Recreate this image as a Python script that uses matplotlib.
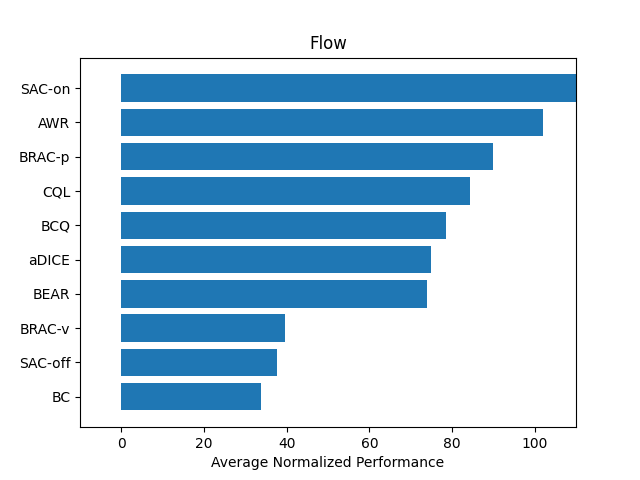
import numpy as np
import matplotlib
matplotlib.use("Agg")
import matplotlib.pyplot as plt

# algorithms, bottom to top
algos = ["BC", "SAC-off", "BRAC-v", "BEAR", "aDICE", "BCQ", "CQL", "BRAC-p", "AWR", "SAC-on"]
scores = [33.7, 37.6, 39.6, 73.9, 74.9, 78.5, 84.3, 89.9, 102.0, 115.0]

fig, ax = plt.subplots(figsize=(6.4, 4.8), dpi=100)
ax.barh(algos, scores)
ax.set_xlim(-10, 110)
ax.set_xlabel("Average Normalized Performance")
ax.set_title("Flow")
fig.savefig("out.png")
